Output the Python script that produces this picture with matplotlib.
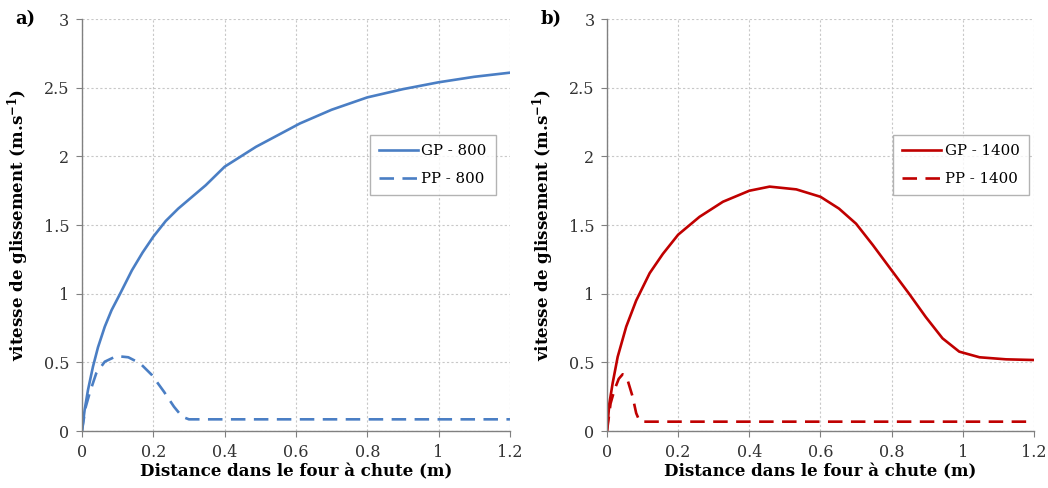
#!/usr/bin/env python3

import numpy as np
import matplotlib
matplotlib.use('Agg')
import matplotlib.pyplot as plt

# values
x_gp800 = [0, 0.0075, 0.017, 0.031, 0.045, 0.064, 0.083, 0.107, 0.14, 0.17, 0.2, 0.235, 0.27, 0.347, 0.4, 0.488, 0.611, 0.7, 0.8, 0.9, 1.0, 1.1, 1.2]
y_gp800 = [0, 0.153, 0.30, 0.47, 0.61, 0.76, 0.88, 1.0, 1.17, 1.3, 1.415, 1.53, 1.62, 1.79, 1.925, 2.07, 2.24, 2.34, 2.43, 2.49, 2.54, 2.58, 2.61]

x_pp800 = [0, 0.01, 0.022, 0.04, 0.064, 0.097, 0.13, 0.163, 0.196, 0.23, 0.258, 0.281, 0.3, 0.35, 1.2]
y_pp800 = [0, 0.17, 0.28, 0.42, 0.505, 0.546, 0.537, 0.493, 0.408, 0.286, 0.177, 0.104, 0.085, 0.085, 0.085]

x_gp1400 = [0, 0.0066, 0.016, 0.03, 0.054, 0.082, 0.12, 0.157, 0.2, 0.26, 0.326, 0.4, 0.457, 0.532, 0.6, 0.652, 0.7,
            0.747, 0.8, 0.849, 0.896, 0.943, 0.99, 1.047, 1.122, 1.2]
y_gp1400 = [0, 0.2, 0.35, 0.54, 0.76, 0.95, 1.15, 1.29, 1.43, 1.56, 1.67, 1.75, 1.78, 1.76, 1.706, 1.62, 1.51,
            1.355, 1.17, 1.0, 0.83, 0.675, 0.578, 0.537, 0.522, 0.517]

x_pp1400 = [0, 0.01, 0.021, 0.033, 0.044, 0.058, 0.072, 0.082, 0.091, 0.1, 0.12, 1.2]
y_pp1400 = [0, 0.2, 0.30, 0.38, 0.413, 0.37, 0.25, 0.13, 0.075, 0.068, 0.068, 0.068]

xticks = [0, 0.2, 0.4, 0.6, 0.8, 1.0, 1.2]
xticklabels = ['0', '0.2', '0.4', '0.6', '0.8', '1', '1.2']
yticks = [0, 0.5, 1.0, 1.5, 2.0, 2.5, 3.0]
yticklabels = ['0', '0.5', '1', '1.5', '2', '2.5', '3']

plt.rcParams['font.family'] = ['DejaVu Serif']
plt.rcParams['mathtext.fontset'] = 'dejavuserif'

fig = plt.figure(figsize=(10.48, 4.88), dpi=100)

def panel(rect, xg, yg, xp, yp, color, lab_gp, lab_pp, letter, leg_x):
    ax = fig.add_axes(rect)
    ax.plot(xg, yg, color=color, lw=1.9, label=lab_gp, solid_joinstyle='round')
    ax.plot(xp, yp, color=color, lw=1.9, dashes=(5.5, 3.2), label=lab_pp)
    ax.set_xlim(0, 1.2)
    ax.set_ylim(0, 3)
    ax.set_xticks(xticks)
    ax.set_xticklabels(xticklabels)
    ax.set_yticks(yticks)
    ax.set_yticklabels(yticklabels)
    ax.grid(True, color='#c8c8c8', ls=(0, (2, 2)), lw=0.8)
    for s in ['top', 'right']:
        ax.spines[s].set_visible(False)
    for s in ['left', 'bottom']:
        ax.spines[s].set_color('#808080')
        ax.spines[s].set_linewidth(1.0)
    ax.tick_params(direction='out', length=4, color='#808080', labelsize=11.5,
                   labelcolor='#333333', pad=5)
    ax.set_xlabel('Distance dans le four à chute (m)', fontsize=12, fontweight='bold', labelpad=2)
    ax.set_ylabel(r'vitesse de glissement (m.s$^{\mathbf{-1}}$)', fontsize=12,
                  fontweight='bold', labelpad=9)
    leg = ax.legend(loc='upper right', bbox_to_anchor=(leg_x, 0.718), borderaxespad=0,
                    fontsize=10.8, fancybox=False, edgecolor='#a0a0a0', handlelength=2.6,
                    borderpad=0.6, labelspacing=0.9, handletextpad=0.25)
    leg.get_frame().set_linewidth(1.0)
    ax.text(-0.155, 1.0, letter, transform=ax.transAxes, fontsize=13,
            fontweight='bold', va='center', ha='left')
    return ax

panel([0.0782, 0.1168, 0.4084, 0.844], x_gp800, y_gp800, x_pp800, y_pp800,
      '#4a7ec4', 'GP - 800', 'PP - 800', 'a)', 0.967)
panel([0.5792, 0.1168, 0.4074, 0.844], x_gp1400, y_gp1400, x_pp1400, y_pp1400,
      '#c00000', 'GP - 1400', 'PP - 1400', 'b)', 0.988)

fig.savefig('out.png', dpi=100)
